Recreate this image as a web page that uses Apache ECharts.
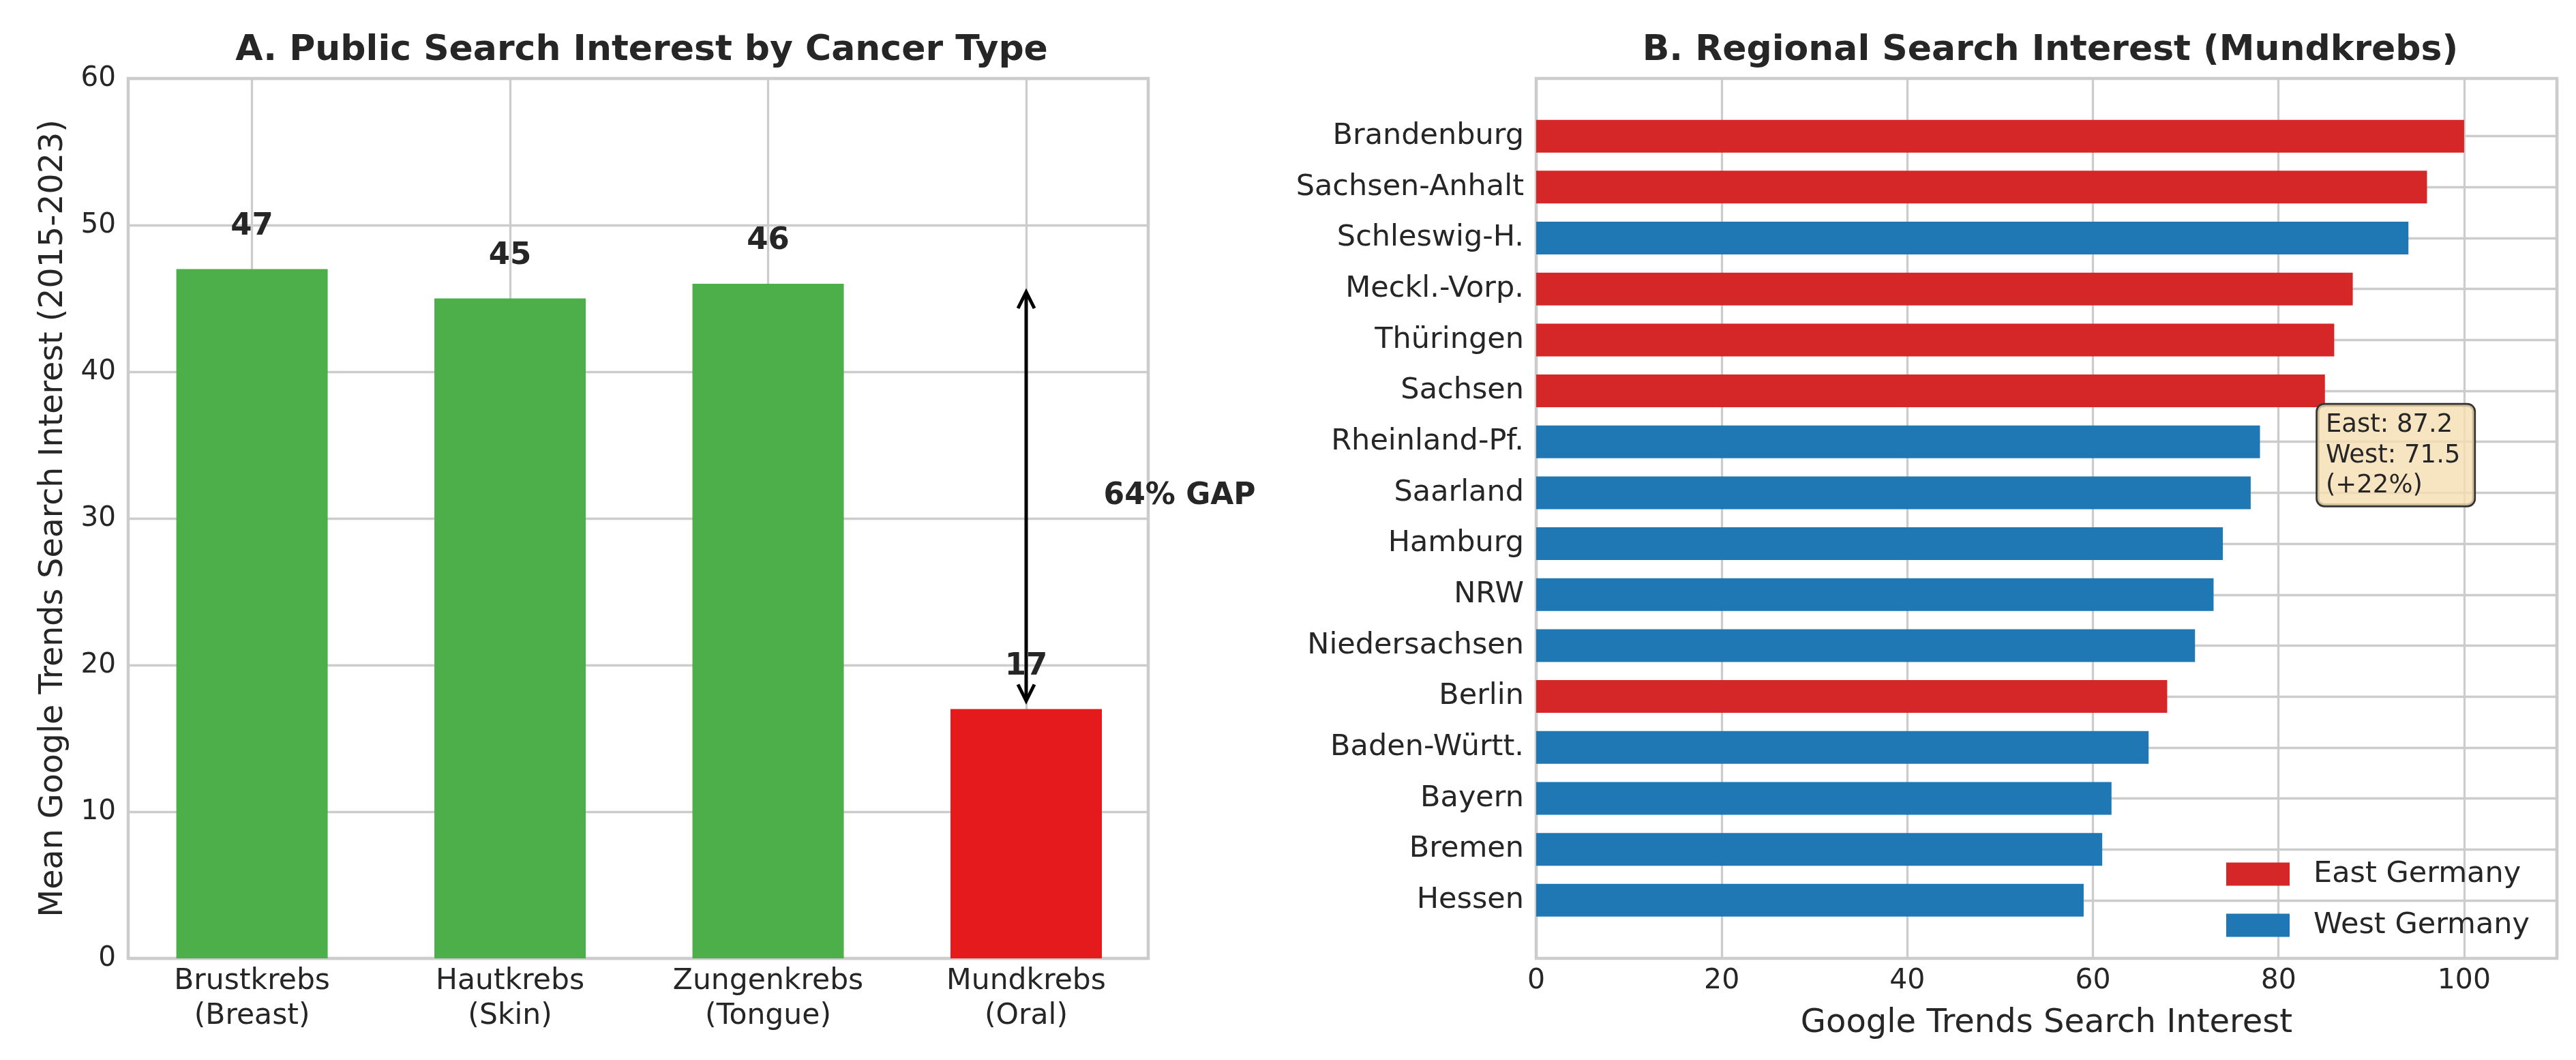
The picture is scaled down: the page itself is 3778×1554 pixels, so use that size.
<!DOCTYPE html>
<html>
<head>
<meta charset="utf-8">
<script src="https://cdn.jsdelivr.net/npm/echarts@6/dist/echarts.min.js"></script>
<style>
html,body{margin:0;padding:0;background:#fff;}
#chart{width:3778px;height:1554px;}
</style>
</head>
<body>
<div id="chart"></div>
<script>
// ---- Panel A data ----
const cancerTypes = ['Brustkrebs\n(Breast)', 'Hautkrebs\n(Skin)', 'Zungenkrebs\n(Tongue)', 'Mundkrebs\n(Oral)'];
const searchInterest = [47, 45, 46, 17];
const gapArrow = [46, 17];          // from mean of the other types down to Mundkrebs
const gapLabel = '64% GAP';
const gapLabelAt = [3.3, 31.5];

// ---- Panel B data ----
const states = ['Brandenburg', 'Sachsen-Anhalt', 'Schleswig-H.', 'Meckl.-Vorp.', 'Thüringen', 'Sachsen',
  'Rheinland-Pf.', 'Saarland', 'Hamburg', 'NRW', 'Niedersachsen', 'Berlin', 'Baden-Württ.', 'Bayern', 'Bremen', 'Hessen'];
const stateInterest = [100, 96, 94, 88, 86, 85, 78, 77, 74, 73, 71, 68, 66, 62, 61, 59];
const stateRegion = ['E', 'E', 'W', 'E', 'E', 'E', 'W', 'W', 'W', 'W', 'W', 'E', 'W', 'W', 'W', 'W'];
const regionNames = { E: 'East Germany', W: 'West Germany' };
const summaryText = 'East: 87.2\nWest: 71.5\n(+22%)';
const summaryAt = [84.2, 5.27];

const TXT = '#262626';
const GRID = '#cccccc';
const FONT = 'DejaVu Sans';

const chart = echarts.init(document.getElementById('chart'), null, { renderer: 'canvas' });

const barColorsA = ['#4daf4a', '#4daf4a', '#4daf4a', '#e41a1c'];

const option = {
  backgroundColor: '#ffffff',
  animation: false,
  textStyle: { fontFamily: FONT },
  title: [
    { text: 'A. Public Search Interest by Cancer Type', left: 936, top: 43, textAlign: 'center',
      textStyle: { fontFamily: FONT, fontWeight: 'bold', fontSize: 52, lineHeight: 52, color: TXT } },
    { text: 'B. Regional Search Interest (Mundkrebs)', left: 3002, top: 43, textAlign: 'center',
      textStyle: { fontFamily: FONT, fontWeight: 'bold', fontSize: 52, lineHeight: 52, color: TXT } }
  ],
  legend: {
    data: ['East Germany', 'West Germany'],
    orient: 'vertical', left: 3260, top: 1255,
    itemWidth: 93, itemHeight: 34, itemGap: 32, icon: 'rect',
    selectedMode: false,
    textStyle: { fontFamily: FONT, fontSize: 43, lineHeight: 34, color: TXT, padding: [0, 0, 0, 30] }
  },
  grid: [
    { left: 188, right: 3778 - 1684, top: 115, bottom: 1554 - 1405, show: true, borderColor: GRID, borderWidth: 4.5, backgroundColor: 'transparent' },
    { left: 369.6, right: 3778 - 1505, top: 115, bottom: 1554 - 1405 },
    { left: 2253, right: 3778 - 3750, top: 115, bottom: 1554 - 1405, show: true, borderColor: GRID, borderWidth: 4.5, backgroundColor: 'transparent' },
    { left: 2253, right: 3778 - 3750, top: 199.7, bottom: 1554 - 1319.8 }
  ],
  xAxis: [
    { gridIndex: 0, type: 'value', min: 0, max: 1, show: false },
    { gridIndex: 1, type: 'category', data: cancerTypes, boundaryGap: false,
      axisLine: { show: false }, axisTick: { show: false },
      axisLabel: { fontFamily: FONT, fontSize: 42.5, lineHeight: 51, color: TXT, margin: 8, interval: 0 },
      splitLine: { show: true, lineStyle: { color: GRID, width: 3.3 } } },
    { gridIndex: 2, type: 'value', min: 0, max: 110, interval: 20,
      axisLine: { show: false }, axisTick: { show: false },
      axisLabel: { fontFamily: FONT, fontSize: 41, lineHeight: 41, color: TXT, margin: 13, showMaxLabel: false },
      splitLine: { show: true, lineStyle: { color: GRID, width: 3.3 } },
      name: 'Google Trends Search Interest', nameLocation: 'middle', nameGap: 72,
      nameTextStyle: { fontFamily: FONT, fontSize: 48, lineHeight: 48, color: TXT } },
    { gridIndex: 3, type: 'value', min: 0, max: 110, show: false }
  ],
  yAxis: [
    { gridIndex: 0, type: 'value', min: 0, max: 60, interval: 10,
      axisLine: { show: false }, axisTick: { show: false },
      axisLabel: { fontFamily: FONT, fontSize: 40.5, color: TXT, margin: 18 },
      splitLine: { show: true, lineStyle: { color: GRID, width: 3.3 } },
      name: 'Mean Google Trends Search Interest (2015-2023)', nameLocation: 'middle', nameGap: 85,
      nameTextStyle: { fontFamily: FONT, fontSize: 47.5, lineHeight: 48, color: TXT } },
    { gridIndex: 1, type: 'value', min: 0, max: 60, show: false },
    { gridIndex: 2, type: 'value', min: -1.135, max: 16.135, inverse: true, show: false },
    { gridIndex: 3, type: 'category', data: states, inverse: true, boundaryGap: false,
      axisLine: { show: false }, axisTick: { show: false },
      axisLabel: { fontFamily: FONT, fontSize: 43, color: TXT, margin: 18, interval: 0 },
      splitLine: { show: true, lineStyle: { color: GRID, width: 3.3 } } }
  ],
  series: [
    { type: 'bar', name: 'Cancer types', xAxisIndex: 1, yAxisIndex: 1, barWidth: 222,
      data: searchInterest.map((v, i) => ({ value: v, itemStyle: { color: barColorsA[i] } })),
      label: { show: true, position: 'top', distance: 40, formatter: '{c}',
        fontFamily: FONT, fontWeight: 'bold', fontSize: 45, lineHeight: 45, color: TXT },
      z: 3 },
    { type: 'bar', name: regionNames.E, xAxisIndex: 3, yAxisIndex: 3, stack: 'region', barWidth: 48,
      itemStyle: { color: '#d62728' },
      data: stateInterest.map((v, i) => stateRegion[i] === 'E' ? v : '-'), z: 3 },
    { type: 'bar', name: regionNames.W, xAxisIndex: 3, yAxisIndex: 3, stack: 'region', barWidth: 48,
      itemStyle: { color: '#1f77b4' },
      data: stateInterest.map((v, i) => stateRegion[i] === 'W' ? v : '-'), z: 3 }
  ]
};

chart.setOption(option);

// ---- annotations positioned through the axes ----
const pA = (x, y) => chart.convertToPixel({ xAxisIndex: 1, yAxisIndex: 1 }, [x, y]);
const pTop = pA(3, gapArrow[0]);
const pBot = pA(3, gapArrow[1]);
const shrink = 12, headL = 24, headW = 12;
const ax = pTop[0];
const tTop = pTop[1] + shrink, tBot = pBot[1] - shrink;

const c2 = pA(2, gapLabelAt[1]);
const c3 = pA(3, gapLabelAt[1]);
const gx = c3[0] + (gapLabelAt[0] - 3) * (c3[0] - c2[0]);

const pB = chart.convertToPixel({ xAxisIndex: 2, yAxisIndex: 2 }, summaryAt);

chart.setOption({
  graphic: [
    { type: 'polyline', z: 20, shape: { points: [[ax, tTop + 2], [ax, tBot - 2]] },
      style: { stroke: '#000', lineWidth: 5, fill: null } },
    { type: 'polyline', z: 20, shape: { points: [[ax - headW, tTop + headL], [ax, tTop], [ax + headW, tTop + headL]] },
      style: { stroke: '#000', lineWidth: 5, fill: null, lineJoin: 'miter' } },
    { type: 'polyline', z: 20, shape: { points: [[ax - headW, tBot - headL], [ax, tBot], [ax + headW, tBot - headL]] },
      style: { stroke: '#000', lineWidth: 5, fill: null, lineJoin: 'miter' } },
    { type: 'text', z: 20, x: gx, y: c3[1],
      style: { text: gapLabel, fontFamily: FONT, fontWeight: 'bold', fontSize: 44, fill: TXT,
        align: 'left', verticalAlign: 'middle' } },
    { type: 'text', z: 20, x: pB[0], y: pB[1],
      style: { text: summaryText, fontFamily: FONT, fontSize: 37, lineHeight: 44.5, fill: TXT,
        align: 'left', verticalAlign: 'top',
        backgroundColor: 'rgba(245,222,179,0.8)', borderColor: '#333333', borderWidth: 2.7, borderRadius: 10,
        padding: [8, 20, 6, 12] } }
  ]
});
</script>
</body>
</html>
